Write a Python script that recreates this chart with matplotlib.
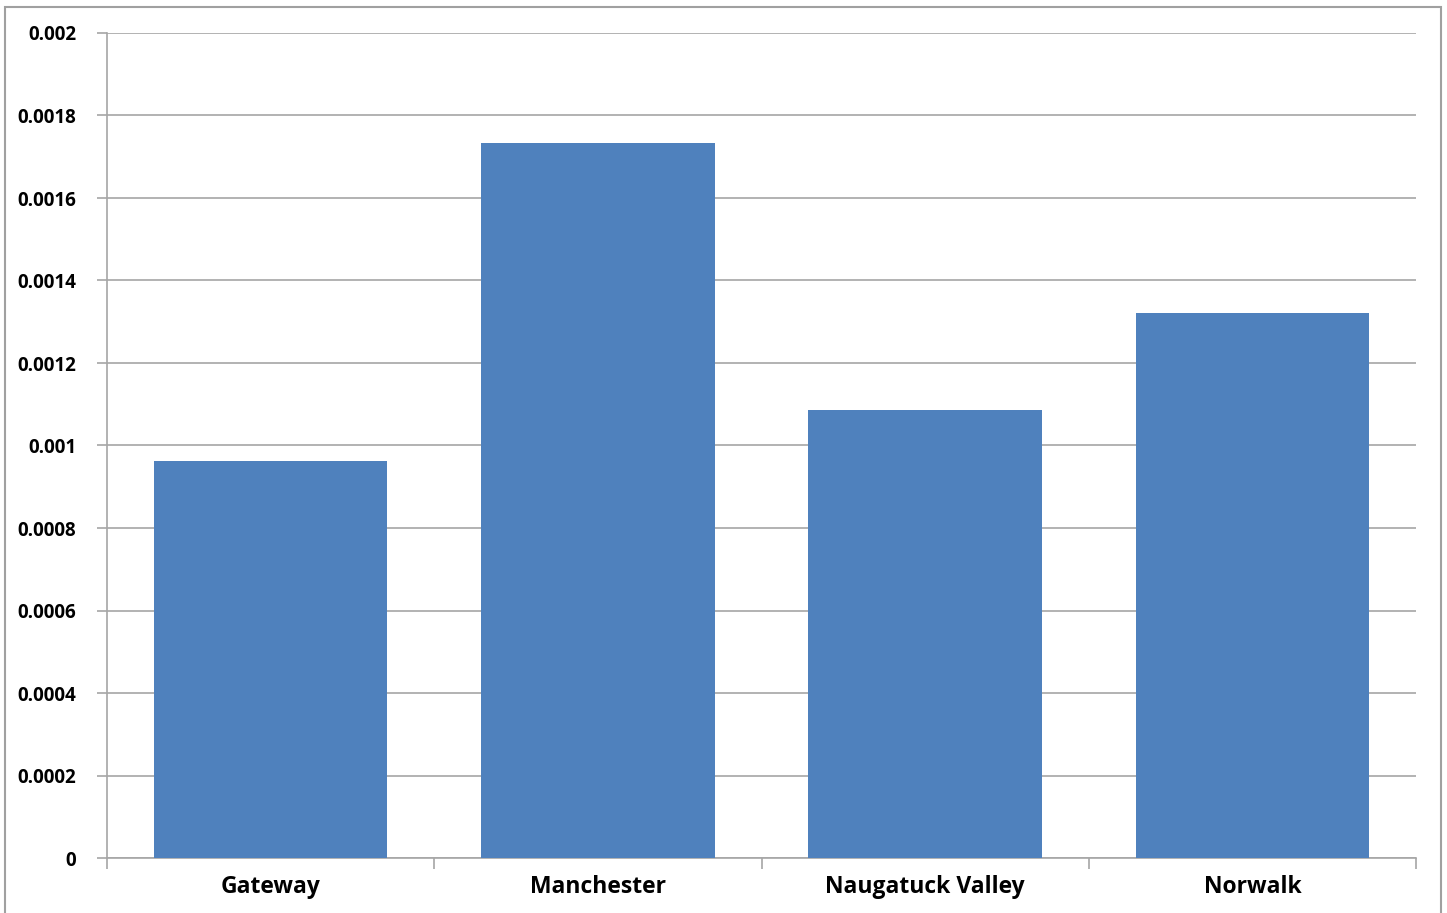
import matplotlib
matplotlib.use("Agg")
import matplotlib.pyplot as plt
import matplotlib.transforms as mtransforms
from matplotlib.patches import Rectangle

categories = ["Gateway", "Manchester", "Naugatuck Valley", "Norwalk"]
values = [0.000962, 0.001733, 0.001086, 0.001321]
ytick_vals = [0, 0.0002, 0.0004, 0.0006, 0.0008, 0.001, 0.0012, 0.0014, 0.0016, 0.0018, 0.002]
ytick_labels = ["0", "0.0002", "0.0004", "0.0006", "0.0008", "0.001", "0.0012", "0.0014", "0.0016", "0.0018", "0.002"]

W, H = 1447, 913
fig = plt.figure(figsize=(W / 100, H / 100), dpi=100)
fig.patch.set_facecolor("white")
ax = fig.add_axes([107 / W, (H - 858) / H, (1416 - 107) / W, (858 - 33) / H])

grid_c = "#a6a6a6"
x = list(range(len(categories)))
ax.bar(x, values, width=0.713, color="#4f81bd", zorder=3)
ax.set_xlim(-0.5, len(categories) - 0.5)
ax.set_ylim(0, 0.002)

ax.set_yticks(ytick_vals)
ax.set_yticklabels(ytick_labels, fontsize=13.5, fontweight="bold", family="Open Sans")
offset = mtransforms.ScaledTranslation(0, -4 / 100, fig.dpi_scale_trans)
for lab in ax.get_yticklabels():
    lab.set_transform(lab.get_transform() + offset)
ax.yaxis.grid(True, color=grid_c, linewidth=1.2, zorder=0)
ax.tick_params(axis="y", length=7, width=1.2, color=grid_c, pad=15)

ax.set_xticks(x)
ax.set_xticklabels(categories, fontsize=16.5, fontweight="bold", family="Open Sans")
ax.set_xticks([i - 0.5 for i in range(len(categories) + 1)], minor=True)
ax.tick_params(axis="x", which="major", length=0, pad=12)
ax.tick_params(axis="x", which="minor", length=8, width=1.2, color=grid_c)

for s in ["top", "right"]:
    ax.spines[s].set_visible(False)
for s in ["left", "bottom"]:
    ax.spines[s].set_color(grid_c)
    ax.spines[s].set_linewidth(1.2)

fig.add_artist(Rectangle((5 / W, -0.01), (1441 - 5) / W, (H - 7) / H + 0.01,
                         transform=fig.transFigure, fill=False,
                         edgecolor="#a0a0a0", linewidth=1.5))

fig.savefig("out.png", dpi=100)
